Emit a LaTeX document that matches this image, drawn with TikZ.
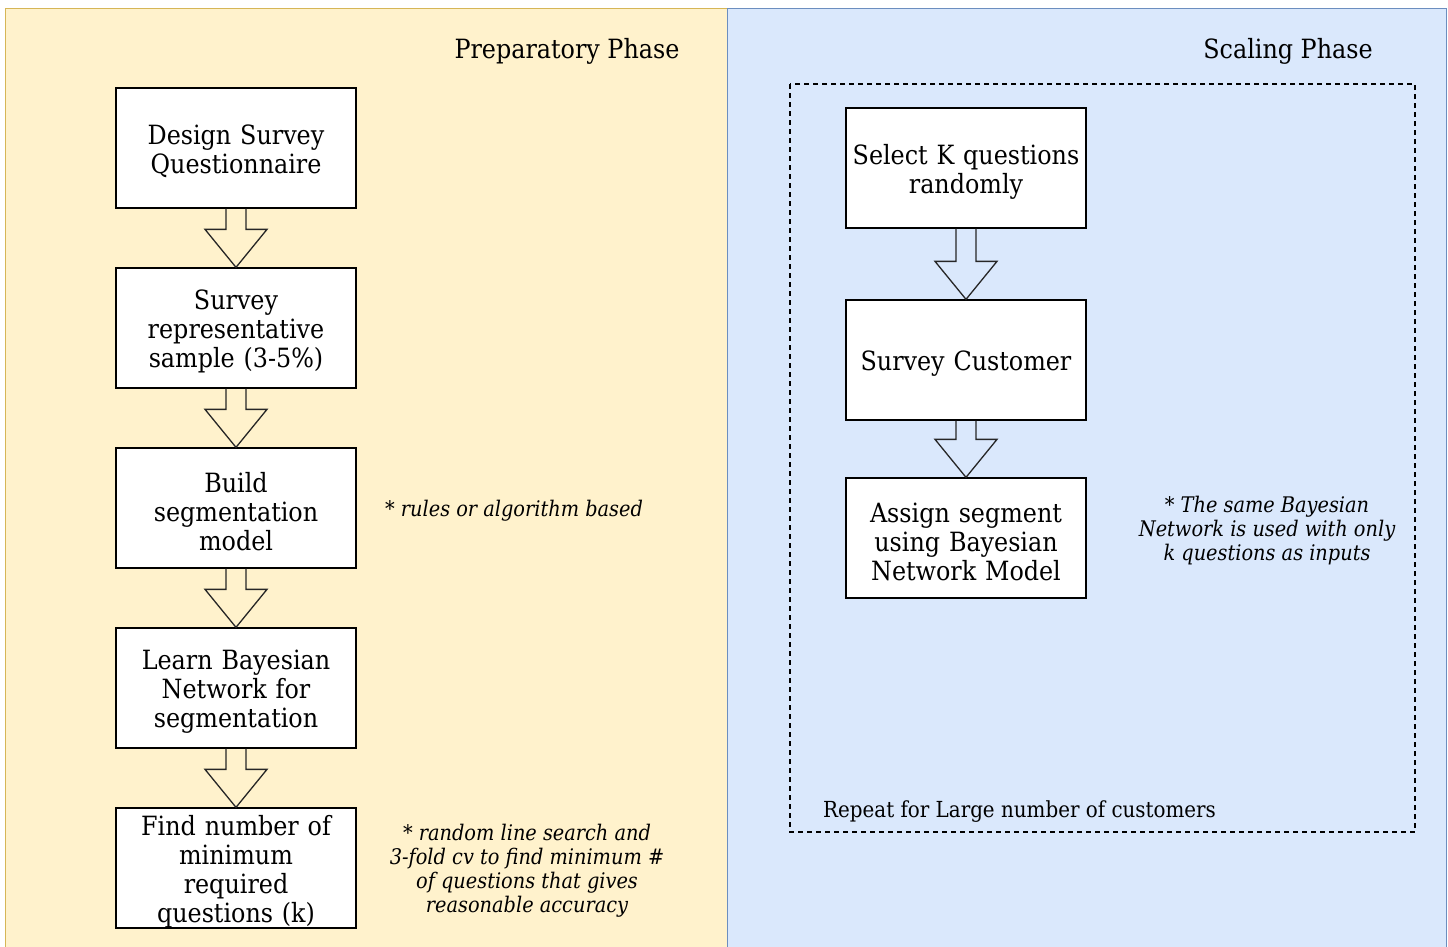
\documentclass[tikz,border=0pt]{standalone}
\usepackage{fontspec}
\setmainfont{DejaVu Serif Condensed}
\usetikzlibrary{calc}
\definecolor{prepfill}{HTML}{FFF2CC}
\definecolor{prepdraw}{HTML}{D6B656}
\definecolor{scalefill}{HTML}{DAE8FC}
\definecolor{scaledraw}{HTML}{6C8EBF}
\tikzset{
  stepbox/.style={draw=black, line width=1.3pt, fill=white, minimum width=240pt, minimum height=120pt, inner sep=0pt},
  boxtext/.style={inner sep=0pt, text width=236pt, align=center, font=\fontsize{26.5}{29}\selectfont},
  fatarrow/.style={draw=black!85, line width=1.3pt, line join=miter},
  phasetitle/.style={font=\fontsize{26.5}{30}\selectfont, inner sep=0pt},
  notetext/.style={font=\fontsize{21.5}{24}\selectfont\itshape, align=center, inner sep=0pt},
}
\newcommand{\fatarr}[2]{%
  \draw[fatarrow] ($(#1.south)+(-10,0)$) -- ($(#2.north)+(-10,-38)$) -- ($(#2.north)+(-31,-38)$) -- (#2.north) -- ($(#2.north)+(31,-38)$) -- ($(#2.north)+(10,-38)$) -- ($(#1.south)+(10,0)$);}
\newcommand{\stepnode}[3]{%
  \node[stepbox] (#1) at #2 {};
  \node[boxtext] (#1t) at ($(#1.center)+(0,3.5)$) {#3};}
\begin{document}
\begin{tikzpicture}[x=1pt,y=-1pt]
\useasboundingbox (0,0) rectangle (1448,946);
\begin{scope}
\clip (0,0) rectangle (1448,946);
\draw[fill=prepfill, draw=prepdraw, line width=1pt] (5,8) rectangle (727,960);
\draw[fill=scalefill, draw=scaledraw, line width=1pt] (727,8) rectangle (1446,960);
\end{scope}
\node[phasetitle] (prep) at (567,51) {Preparatory Phase};
\node[phasetitle] (scal) at (1288,51) {Scaling Phase};
\draw[line width=1.3pt, dash pattern=on 5pt off 4pt] (790,84) rectangle (1415,832);

\stepnode{b1}{(236,148)}{Design Survey\\Questionnaire}
\stepnode{b2}{(236,328)}{Survey\\representative\\sample (3-5\%)}
\stepnode{b3}{(236,508)}{Build\\segmentation\\model}
\stepnode{b4}{(236,688)}{Learn Bayesian\\Network for\\segmentation}
\stepnode{b5}{(236,868)}{Find number of\\minimum\\required\\questions (k)}

\stepnode{r1}{(966,168)}{Select K questions\\randomly}
\stepnode{r2}{(966,360)}{Survey Customer}
\stepnode{r3}{(966,538)}{Assign segment\\using Bayesian\\Network Model}

\fatarr{b1}{b2}
\fatarr{b2}{b3}
\fatarr{b3}{b4}
\fatarr{b4}{b5}
\fatarr{r1}{r2}
\fatarr{r2}{r3}

\node[notetext] (n1) at (514,511) {* rules or algorithm based};
\node[notetext] (n2) at (527,871) {* random line search and\\3-fold cv to find minimum \#\\of questions that gives\\reasonable accuracy};
\node[notetext] (n3) at (1267,531) {* The same Bayesian\\Network is used with only\\k questions as inputs};
\node[font=\fontsize{22.1}{24}\selectfont, anchor=west, inner sep=0pt] (rep) at (823,812) {Repeat for Large number of customers};
\end{tikzpicture}
\end{document}
